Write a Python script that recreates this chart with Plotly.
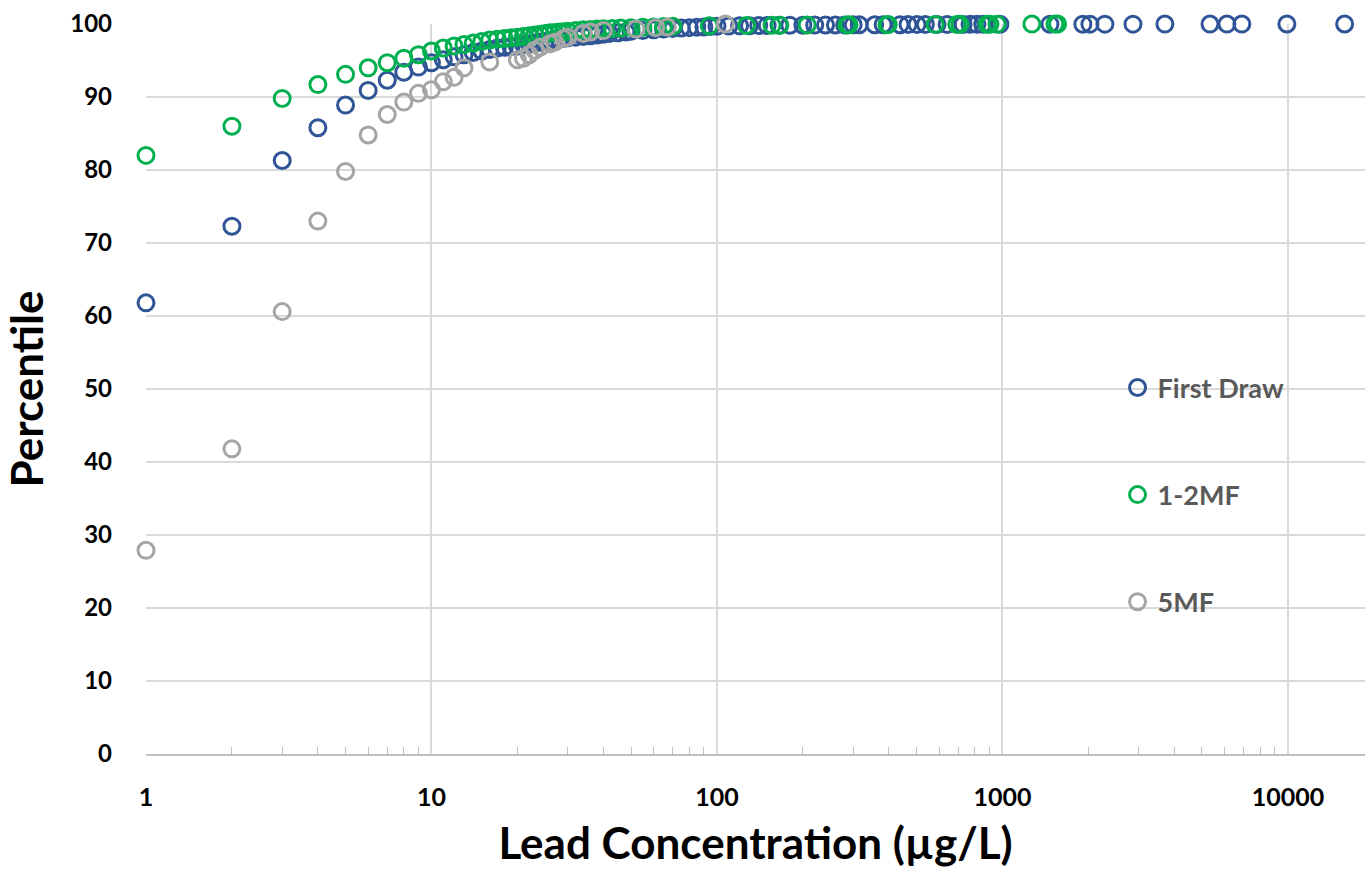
import plotly.graph_objects as go

# ---------------- data ----------------
fd_x = [1, 2, 3, 4, 5, 6, 7, 8, 9, 10, 11, 12, 13, 14, 15, 16, 17, 18, 19, 20,
        21, 22, 23, 24, 25, 26, 27, 28, 29, 30, 32, 34, 36, 38, 40, 42, 45, 48, 50, 55,
        60, 65, 70, 75, 80, 85, 90, 95, 100, 110, 120, 130, 140, 150, 165, 180, 200, 220, 240, 260,
        280, 300, 315, 357, 382, 438, 467, 502, 537, 590, 640, 728, 770, 814, 853, 980,
        1467, 1913, 2025, 2285, 2866, 3707, 5333, 6114, 6896, 9917, 15800]
fd_y = [61.8, 72.3, 81.3, 85.8, 88.9, 90.9, 92.3, 93.4, 94.1, 94.7, 95.1, 95.5, 95.8, 96.1, 96.3, 96.5, 96.7, 96.8, 96.9, 97.0,
        97.2, 97.3, 97.4, 97.5, 97.6, 97.7, 97.8, 97.9, 98.0, 98.1, 98.2, 98.3, 98.4, 98.5, 98.6, 98.7, 98.8, 98.9, 99.0, 99.1,
        99.2, 99.3, 99.4, 99.45, 99.5, 99.55, 99.6, 99.65, 99.7, 99.72, 99.75, 99.77, 99.79, 99.8, 99.82, 99.83, 99.84, 99.85, 99.86, 99.87,
        99.88, 99.89, 99.9, 99.9, 99.91, 99.91, 99.92, 99.92, 99.93, 99.93, 99.94, 99.94, 99.95, 99.95, 99.96, 99.96,
        99.97, 99.97, 99.98, 99.98, 99.98, 99.99, 99.99, 99.99, 99.99, 100.0, 100.0]

mf12_x = [1, 2, 3, 4, 5, 6, 7, 8, 9, 10, 11, 12, 13, 14, 15, 16, 17, 18, 19, 20,
          21, 22, 23, 24, 25, 26, 27, 28, 29, 30, 32, 34, 36, 38, 40, 43, 46, 50, 55, 60,
          65, 70, 94, 127, 156, 166, 207, 285, 290, 394, 398, 581, 692, 710, 883, 904, 957,
          1268, 1527, 1560]
mf12_y = [82.0, 86.0, 89.8, 91.7, 93.1, 94.0, 94.7, 95.3, 95.8, 96.3, 96.7, 97.0, 97.2, 97.4, 97.6, 97.8, 97.9, 98.0, 98.1, 98.2,
          98.3, 98.4, 98.5, 98.6, 98.7, 98.8, 98.85, 98.9, 98.95, 99.0, 99.1, 99.2, 99.25, 99.3, 99.35, 99.4, 99.45, 99.5, 99.55, 99.6,
          99.65, 99.7, 99.75, 99.8, 99.82, 99.84, 99.86, 99.88, 99.9, 99.91, 99.92, 99.93, 99.94, 99.95, 99.96, 99.97, 99.98,
          99.99, 99.99, 100.0]

mf5_x = [1, 2, 3, 4, 5, 6, 7, 8, 9, 10, 11, 12, 13, 16, 20, 21, 22, 23, 24, 26,
         27, 29, 30, 34, 36, 40, 52, 61, 67, 107]
mf5_y = [27.9, 41.8, 60.6, 73.0, 79.8, 84.8, 87.6, 89.3, 90.5, 91.0, 92.1, 92.7, 94.0, 94.8, 95.1, 95.3, 95.8, 96.4, 96.8, 97.3,
         97.5, 98.0, 98.2, 98.7, 98.9, 99.1, 99.3, 99.5, 99.6, 100.0]

series_names = ["First Draw", "1-2MF", "5MF"]
series_colors = ["#2F5597", "#00B050", "#A5A5A5"]

x_tick_vals = [1, 10, 100, 1000, 10000]
x_tick_text = ["1", "10", "100", "1000", "10000"]
x_minor_vals = [m * d for d in [1, 10, 100, 1000, 10000] for m in range(2, 10)]

FONT = "Lato"

fig = go.Figure()
for name, xs, ys, col in zip(series_names, [fd_x, mf12_x, mf5_x], [fd_y, mf12_y, mf5_y], series_colors):
    fig.add_trace(go.Scatter(
        x=xs, y=ys, mode="markers", name=name, legendgroup=name,
        cliponaxis=False,
        marker=dict(symbol="circle-open", size=16, color=col, line=dict(width=3, color=col)),
    ))

fig.update_layout(
    width=1365, height=876,
    margin=dict(l=146, r=0, t=24, b=122),
    plot_bgcolor="white", paper_bgcolor="white",
    font=dict(family=FONT, color="black"),
    showlegend=True,
    legend=dict(x=0.797, y=0.535, xanchor="left", yanchor="top",
                bgcolor="rgba(0,0,0,0)", traceorder="grouped", tracegroupgap=69,
                font=dict(family=FONT, size=27, color="#595959", weight="bold"),
                itemwidth=30),
)

fig.update_xaxes(
    type="log", range=[0, 4.27],
    tickvals=x_tick_vals, ticktext=x_tick_text,
    tickfont=dict(family=FONT, size=25, color="black", weight="bold"),
    ticks="", ticklabelstandoff=20,
    showgrid=True, gridcolor="#D9D9D9", gridwidth=1.5,
    showline=True, linecolor="#BFBFBF", linewidth=1.5,
    minor=dict(tickvals=x_minor_vals, ticks="inside", ticklen=7, tickcolor="#BFBFBF", tickwidth=1, showgrid=False),
    zeroline=False,
    title=dict(text="Lead Concentration (µg/L)", font=dict(family=FONT, size=44, color="black", weight="bold"), standoff=18),
)
fig.update_yaxes(
    range=[0, 100], dtick=10,
    tickfont=dict(family=FONT, size=24, color="black", weight="bold"),
    ticks="", ticklabelstandoff=33,
    showgrid=True, gridcolor="#D9D9D9", gridwidth=1.5,
    showline=False, zeroline=False,
    title=dict(text="Percentile", font=dict(family=FONT, size=44, color="black", weight="bold"), standoff=14),
)

fig.write_html("out.html")
